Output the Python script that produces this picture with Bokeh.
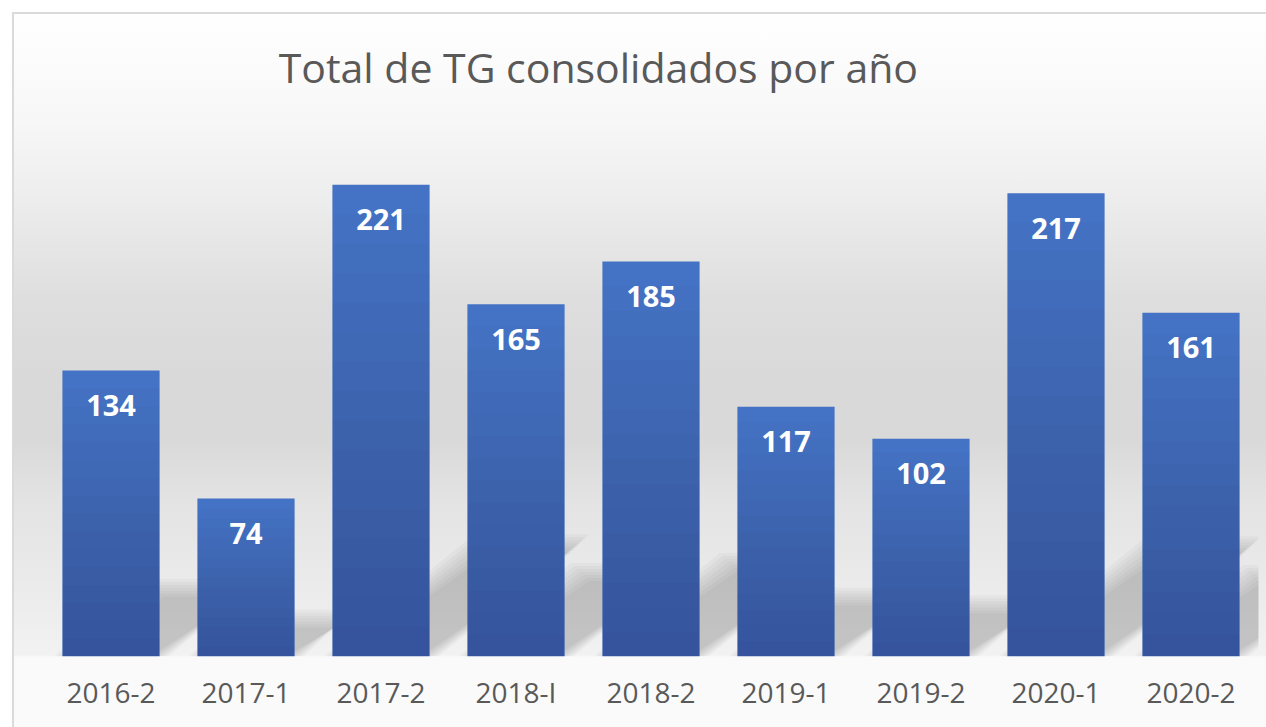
from bokeh.plotting import figure
from bokeh.models import ColumnDataSource, Label, FactorRange, Range1d
from bokeh.core.properties import value
from bokeh.embed import file_html
from bokeh.resources import INLINE

# ---- data ----
categories = ["2016-2", "2017-1", "2017-2", "2018-I", "2018-2",
              "2019-1", "2019-2", "2020-1", "2020-2"]
totals = [134, 74, 221, 165, 185, 117, 102, 217, 161]
title_text = "Total de TG consolidados por año"

# ---- layout constants ----
PX_PER_UNIT = 2.135
CAT_PX = 135.0
BAR_W = 0.72
W, H = 1266, 727
FRAME_H = 656

p = figure(
    x_range=FactorRange(*categories),
    y_range=Range1d(0, FRAME_H / PX_PER_UNIT),
    width=W, height=H, title=None,
    output_backend="svg", toolbar_location=None,
    min_border_left=43, min_border_right=8,
    min_border_top=0, min_border_bottom=H - FRAME_H,
)
p.background_fill_alpha = 0
p.border_fill_alpha = 0
p.outline_line_color = None
p.styles = {
    "background": "linear-gradient(to bottom, #ffffff 0px, #ffffff 12px, #f8f8f8 112px, "
                  "#f1f1f1 170px, #dedede 300px, #d9d9d9 380px, #d9d9d9 440px, "
                  "#e3e3e3 500px, #ececec 600px, #f2f2f2 655px, #fafafa 657px, #fafafa 100%)",
    "box-shadow": "inset 12px 12px 0 0 #ffffff, inset 14px 14px 0 0 #dadada",
}

# ---- cast shadows (soft, built from several translucent layers) ----
sh_xs, sh_ys = [], []
for spread in (-9, -6, -3, 0, 3, 6, 9):
    for i, v in enumerate(totals):
        c = i + 0.5
        dx = 0.32 * v * PX_PER_UNIT / CAT_PX
        dy = 0.24 * v
        sx = spread / CAT_PX
        sy = spread / PX_PER_UNIT
        sh_xs.append([c - BAR_W / 2 - sx, c + BAR_W / 2 + sx,
                      c + BAR_W / 2 + dx + sx, c - BAR_W / 2 + dx - sx])
        sh_ys.append([0, 0, dy + sy, dy + sy])
p.patches(sh_xs, sh_ys, fill_color="black", fill_alpha=0.026, line_color=None)

# ---- bars ----
src = ColumnDataSource(dict(cat=categories, val=totals, lab=[str(v) for v in totals]))
p.vbar(x="cat", top="val", width=BAR_W, source=src, fill_color="#4472c4", line_color=None)

# darkening toward the base of each bar (gradient look)
N = 16
for k in range(1, N):
    p.vbar(x=categories, top=[v * k / N for v in totals], width=BAR_W,
           fill_color="black", fill_alpha=0.013, line_color=None)

# ---- value labels ----
p.text(x="cat", y="val", text="lab", source=src, y_offset=35,
       text_align="center", text_baseline="middle", text_color="white",
       text_font=value("Open Sans"), text_font_style="bold", text_font_size="29px")

# ---- title ----
p.add_layout(Label(x=4.11, y=(656 - 66) / PX_PER_UNIT, text=title_text,
                   text_align="center", text_baseline="alphabetic",
                   text_font="Open Sans", text_font_size="41px", text_color="#595959"))

# ---- axes ----
p.yaxis.visible = False
p.xgrid.grid_line_color = None
p.ygrid.grid_line_color = None
p.xaxis.axis_line_color = None
p.xaxis.major_tick_line_color = None
p.xaxis.minor_tick_line_color = None
p.xaxis.major_tick_out = 0
p.xaxis.major_tick_in = 0
p.xaxis.major_label_standoff = 16
p.xaxis.major_label_text_font = "Open Sans"
p.xaxis.major_label_text_font_size = "28px"
p.xaxis.major_label_text_color = "#595959"

open("out.html", "w").write(file_html(p, INLINE))
